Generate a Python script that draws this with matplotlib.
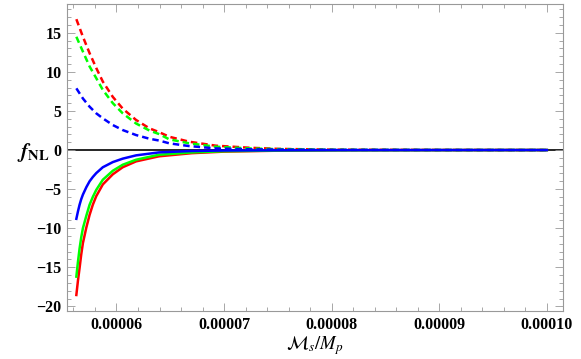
import numpy as np
import matplotlib
matplotlib.use("Agg")
import matplotlib.pyplot as plt
from matplotlib.ticker import MultipleLocator, FixedLocator
from matplotlib import font_manager as fm

# values (x in units of 1e-5)
x_dash = [5.627, 5.688, 5.75, 5.812, 5.873, 5.966, 6.058, 6.182, 6.306, 6.395,
          6.491, 6.676, 6.923, 7.231, 7.5, 8.0, 9.0, 10.0]
red_dash = [16.75, 14.5, 12.4, 10.5, 8.76, 6.8, 5.3, 3.85, 2.78, 2.3,
            1.7, 1.07, 0.56, 0.3, 0.15, 0.05, 0.01, 0.0]
green_dash = [14.5, 12.6, 10.7, 9.2, 7.7, 6.0, 4.7, 3.4, 2.5, 2.05,
              1.37, 0.86, 0.43, 0.21, 0.12, 0.04, 0.01, 0.0]
blue_dash = [7.9, 6.6, 5.55, 4.7, 4.06, 3.2, 2.56, 1.92, 1.45, 1.22,
             0.86, 0.51, 0.21, 0.1, 0.06, 0.02, 0.005, 0.0]

x_solid = [5.627, 5.642, 5.657, 5.672, 5.688, 5.72, 5.75, 5.78, 5.812, 5.873,
           5.966, 6.058, 6.182, 6.395, 6.7, 7.0, 7.5, 8.0, 9.0, 10.0]
blue_solid = [-8.8, -7.85, -7.0, -6.3, -5.7, -4.75, -4.0, -3.45, -2.95, -2.2,
              -1.54, -1.1, -0.68, -0.3, -0.12, -0.06, -0.03, -0.01, 0.0, 0.0]
green_solid = [-16.2, -14.3, -12.6, -11.2, -10.0, -8.4, -7.0, -6.0, -5.1, -3.8,
               -2.65, -1.88, -1.24, -0.6, -0.3, -0.15, -0.06, -0.03, -0.01, 0.0]
red_solid = [-18.55, -16.7, -15.1, -13.4, -11.9, -9.9, -8.3, -7.0, -5.9, -4.4,
             -3.1, -2.2, -1.45, -0.8, -0.4, -0.2, -0.08, -0.03, -0.01, 0.0]

xticks = [6e-5, 7e-5, 8e-5, 9e-5, 1e-4]
xticklabels = ["0.00006", "0.00007", "0.00008", "0.00009", "0.00010"]
yticks = [-20, -15, -10, -5, 0, 5, 10, 15]

plt.rcParams["font.family"] = "Liberation Serif"
plt.rcParams["mathtext.fontset"] = "stix"
boldfont = fm.FontProperties(family="Liberation Serif", weight="bold", size=11.5)

fig = plt.figure(figsize=(5.81, 3.59), dpi=100)
ax = fig.add_axes([0.1153, 0.1337, 0.969 - 0.1153, 0.989 - 0.1337])

xd = np.array(x_dash) * 1e-5
xs = np.array(x_solid) * 1e-5
dash = (0, (2.6, 1.6))
ax.axhline(0, color="black", lw=1.2, zorder=1)
ax.plot(xd, red_dash, color=(1, 0, 0), lw=1.8, ls=dash)
ax.plot(xd, green_dash, color=(0, 1, 0), lw=1.8, ls=dash)
ax.plot(xd, blue_dash, color=(0, 0, 1), lw=1.8, ls=dash)
ax.plot(xs, red_solid, color=(1, 0, 0), lw=1.8)
ax.plot(xs, green_solid, color=(0, 1, 0), lw=1.8)
ax.plot(xs, blue_solid, color=(0, 0, 1), lw=1.8)

ax.set_xlim(5.54e-5, 1.015e-4)
ax.set_ylim(-20.6, 18.7)
ax.xaxis.set_major_locator(FixedLocator(xticks))
ax.set_xticklabels(xticklabels, fontproperties=boldfont)
ax.xaxis.set_minor_locator(MultipleLocator(2e-6))
ax.set_yticks(yticks)
ax.set_yticklabels([str(v).replace("-", "\u2212") for v in yticks], fontproperties=boldfont)
ax.yaxis.set_minor_locator(MultipleLocator(1))

for s in ax.spines.values():
    s.set_color("#999999")
    s.set_linewidth(0.8)
ax.tick_params(which="both", direction="in", top=True, right=True, color="#999999",
               width=0.6, pad=4)
ax.tick_params(which="major", length=6)
ax.tick_params(which="minor", length=3)

ax.set_xlabel(r"$\mathcal{M}_s/M_p$", fontsize=13.5, labelpad=1)
fig.text(0.03, 0.575, r"$\boldsymbol{f}_{\mathbf{NL}}$", fontsize=15, va="center", ha="left")

fig.savefig("out.png", dpi=100)
